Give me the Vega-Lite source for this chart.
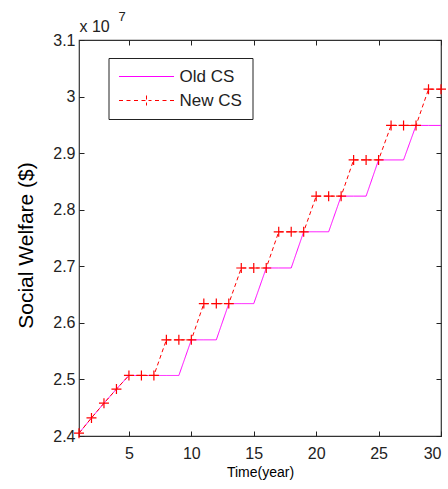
{
  "$schema": "https://vega.github.io/schema/vega-lite/v6.json",
  "autosize": "none",
  "width": 362,
  "height": 396,
  "padding": {"left": 79, "top": 40, "right": 7, "bottom": 53},
  "background": "white",
  "config": {
    "font": "Liberation Sans",
    "view": {"stroke": "#333333", "strokeWidth": 1.2},
    "axis": {"grid": false, "domain": false, "tickColor": "#222222", "labelColor": "#222222", "titleColor": "#000000", "labelFont": "Liberation Sans", "titleFont": "Liberation Sans", "titleFontWeight": "normal"}
  },
  "data": {
    "values": [
      {"year": 1, "series": "Old CS", "welfare": 2.405},
      {"year": 2, "series": "Old CS", "welfare": 2.432},
      {"year": 3, "series": "Old CS", "welfare": 2.458},
      {"year": 4, "series": "Old CS", "welfare": 2.483},
      {"year": 5, "series": "Old CS", "welfare": 2.507},
      {"year": 6, "series": "Old CS", "welfare": 2.507},
      {"year": 7, "series": "Old CS", "welfare": 2.507},
      {"year": 8, "series": "Old CS", "welfare": 2.507},
      {"year": 9, "series": "Old CS", "welfare": 2.507},
      {"year": 10, "series": "Old CS", "welfare": 2.570},
      {"year": 11, "series": "Old CS", "welfare": 2.570},
      {"year": 12, "series": "Old CS", "welfare": 2.570},
      {"year": 13, "series": "Old CS", "welfare": 2.634},
      {"year": 14, "series": "Old CS", "welfare": 2.634},
      {"year": 15, "series": "Old CS", "welfare": 2.634},
      {"year": 16, "series": "Old CS", "welfare": 2.697},
      {"year": 17, "series": "Old CS", "welfare": 2.697},
      {"year": 18, "series": "Old CS", "welfare": 2.697},
      {"year": 19, "series": "Old CS", "welfare": 2.761},
      {"year": 20, "series": "Old CS", "welfare": 2.761},
      {"year": 21, "series": "Old CS", "welfare": 2.761},
      {"year": 22, "series": "Old CS", "welfare": 2.824},
      {"year": 23, "series": "Old CS", "welfare": 2.824},
      {"year": 24, "series": "Old CS", "welfare": 2.824},
      {"year": 25, "series": "Old CS", "welfare": 2.888},
      {"year": 26, "series": "Old CS", "welfare": 2.888},
      {"year": 27, "series": "Old CS", "welfare": 2.888},
      {"year": 28, "series": "Old CS", "welfare": 2.949},
      {"year": 29, "series": "Old CS", "welfare": 2.949},
      {"year": 30, "series": "Old CS", "welfare": 2.949},
      {"year": 1, "series": "New CS", "welfare": 2.405},
      {"year": 2, "series": "New CS", "welfare": 2.432},
      {"year": 3, "series": "New CS", "welfare": 2.458},
      {"year": 4, "series": "New CS", "welfare": 2.483},
      {"year": 5, "series": "New CS", "welfare": 2.507},
      {"year": 6, "series": "New CS", "welfare": 2.507},
      {"year": 7, "series": "New CS", "welfare": 2.507},
      {"year": 8, "series": "New CS", "welfare": 2.570},
      {"year": 9, "series": "New CS", "welfare": 2.570},
      {"year": 10, "series": "New CS", "welfare": 2.570},
      {"year": 11, "series": "New CS", "welfare": 2.634},
      {"year": 12, "series": "New CS", "welfare": 2.634},
      {"year": 13, "series": "New CS", "welfare": 2.634},
      {"year": 14, "series": "New CS", "welfare": 2.697},
      {"year": 15, "series": "New CS", "welfare": 2.697},
      {"year": 16, "series": "New CS", "welfare": 2.697},
      {"year": 17, "series": "New CS", "welfare": 2.761},
      {"year": 18, "series": "New CS", "welfare": 2.761},
      {"year": 19, "series": "New CS", "welfare": 2.761},
      {"year": 20, "series": "New CS", "welfare": 2.824},
      {"year": 21, "series": "New CS", "welfare": 2.824},
      {"year": 22, "series": "New CS", "welfare": 2.824},
      {"year": 23, "series": "New CS", "welfare": 2.888},
      {"year": 24, "series": "New CS", "welfare": 2.888},
      {"year": 25, "series": "New CS", "welfare": 2.888},
      {"year": 26, "series": "New CS", "welfare": 2.949},
      {"year": 27, "series": "New CS", "welfare": 2.949},
      {"year": 28, "series": "New CS", "welfare": 2.949},
      {"year": 29, "series": "New CS", "welfare": 3.013},
      {"year": 30, "series": "New CS", "welfare": 3.013}
    ]
  },
  "layer": [
    {
      "mark": {"type": "line", "strokeWidth": 1, "clip": false},
      "encoding": {
        "x": {"field": "year", "type": "quantitative", "scale": {"domain": [1, 30], "nice": false, "zero": false},
          "axis": {"orient": "bottom", "values": [5, 10, 15, 20, 25, 30], "tickSize": -5, "labelPadding": 14, "labelFontSize": 16, "title": "Time(year)", "titleFontSize": 14, "titlePadding": 4}},
        "y": {"field": "welfare", "type": "quantitative", "scale": {"domain": [2.4, 3.1], "nice": false, "zero": false},
          "axis": {"orient": "left", "values": [2.4, 2.5, 2.6, 2.7, 2.8, 2.9, 3.0, 3.1], "labelExpr": "format(datum.value, '~g')", "tickSize": -5, "labelPadding": 9, "labelFontSize": 16, "title": "Social Welfare ($)", "titleFontSize": 21, "titlePadding": 16, "titleY": 205}},
        "color": {"field": "series", "type": "nominal", "scale": {"domain": ["Old CS", "New CS"], "range": ["#ff00ff", "#ff0000"]},
          "legend": {"orient": "none", "legendX": 29.5, "legendY": 18, "title": null, "direction": "vertical",
            "strokeColor": "#222222", "fillColor": "white", "padding": 10, "rowPadding": 6,
            "labelFontSize": 17, "labelFont": "Liberation Sans", "labelColor": "#222222", "labelOffset": 44,
            "symbolType": "M-1.6,0H9.4", "symbolSize": 100, "symbolStrokeWidth": 1, "symbolFillColor": "transparent",
            "encode": {"symbols": {"update": {"shape": {"signal": "datum.value === 'New CS' ? 'M-1.6,0H-0.8M-0.1,0H0.7M1.4,0H2.2M2.9,0H4.9M3.9,-1V1M5.6,0H6.4M7.1,0H7.9M8.6,0H9.4' : 'M-1.6,0H9.4'"}}}}}},
        "strokeDash": {"field": "series", "type": "nominal", "scale": {"domain": ["Old CS", "New CS"], "range": [[1, 0], [4, 3]]}, "legend": null}
      }
    },
    {
      "transform": [{"filter": "datum.series === 'New CS'"}],
      "mark": {"type": "point", "shape": "M-1,0H1M0,-1V1", "size": 100, "filled": false, "strokeWidth": 1.2, "color": "#ff0000", "opacity": 1, "clip": false},
      "encoding": {
        "x": {"field": "year", "type": "quantitative",
          "axis": {"orient": "top", "values": [5, 10, 15, 20, 25, 30], "tickSize": -5, "labels": false, "title": "x 10", "titleFontSize": 16, "titleAngle": 0, "titleX": 0, "titleY": -9, "titleAlign": "left", "titleBaseline": "alphabetic", "titleColor": "#222222"}},
        "y": {"field": "welfare", "type": "quantitative",
          "axis": {"orient": "right", "values": [2.4, 2.5, 2.6, 2.7, 2.8, 2.9, 3.0, 3.1], "tickSize": -5, "labels": false, "title": "7", "titleFontSize": 13, "titleAngle": 0, "titleX": -323, "titleY": -20, "titleAlign": "left", "titleBaseline": "alphabetic", "titleColor": "#222222"}}
      }
    }
  ],
  "resolve": {"axis": {"x": "independent", "y": "independent"}}
}
